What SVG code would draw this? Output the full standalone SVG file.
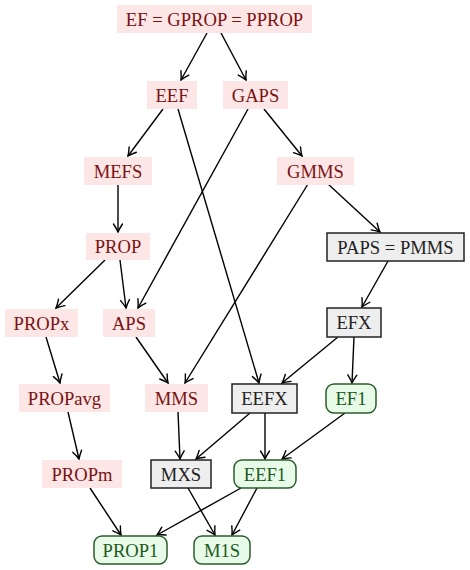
<svg xmlns="http://www.w3.org/2000/svg" width="470" height="570" viewBox="0 0 470 570">
<defs>
<marker id="arr" viewBox="-10 -6 12 12" refX="0" refY="0" markerWidth="12" markerHeight="12" markerUnits="userSpaceOnUse" orient="auto">
<path d="M-8,-4.5 Q-3,-1.2 0,0 Q-3,1.2 -8,4.5" fill="none" stroke="#000" stroke-width="1.4" stroke-linecap="round"/>
</marker>
</defs>
<style>
.p rect{fill:#fde6e6;stroke:none}
.p text{fill:#7a1313}
.g rect{fill:#eeeeee;stroke:#222;stroke-width:1.5}
.g text{fill:#222}
.n rect{fill:#e8fbe8;stroke:#2a5e2a;stroke-width:1.5}
.n text{fill:#1d5a1d}
#edges line{stroke:#000;stroke-width:1.4;fill:none;marker-end:url(#arr)}
</style>
<g id="edges">
<line x1="207" y1="33" x2="181" y2="80"/>
<line x1="221" y1="33" x2="246" y2="80"/>
<line x1="163" y1="109" x2="128" y2="156"/>
<line x1="178" y1="109" x2="259" y2="383"/>
<line x1="264" y1="109" x2="302" y2="156"/>
<line x1="248" y1="109" x2="138" y2="308"/>
<line x1="118" y1="185" x2="118" y2="232"/>
<line x1="105" y1="260" x2="56" y2="308"/>
<line x1="120" y1="260" x2="126" y2="308"/>
<line x1="328" y1="184" x2="380" y2="232"/>
<line x1="308" y1="184" x2="185" y2="383"/>
<line x1="388" y1="261" x2="362" y2="307"/>
<line x1="338" y1="337" x2="282" y2="383"/>
<line x1="354" y1="337" x2="352" y2="383"/>
<line x1="46" y1="337" x2="60" y2="383"/>
<line x1="136" y1="337" x2="168" y2="383"/>
<line x1="68" y1="412" x2="79" y2="459"/>
<line x1="178" y1="412" x2="180" y2="459"/>
<line x1="250" y1="413" x2="196" y2="459"/>
<line x1="265" y1="413" x2="265" y2="459"/>
<line x1="345" y1="413" x2="282" y2="459"/>
<line x1="90" y1="488" x2="121" y2="535"/>
<line x1="241" y1="488" x2="157" y2="535"/>
<line x1="188" y1="488" x2="215" y2="535"/>
<line x1="257" y1="488" x2="232" y2="535"/>
</g>
<g font-family="'Liberation Serif', 'Times New Roman', serif" font-size="18.6" text-anchor="middle">
<g id="EF_GPROP_PPROP" class="p"><rect x="117" y="5" width="195" height="28"/><text x="214.5" y="25.5">EF = GPROP = PPROP</text></g>
<g id="EEF" class="p"><rect x="147" y="81" width="50" height="28"/><text x="172" y="101.5">EEF</text></g>
<g id="GAPS" class="p"><rect x="223" y="81" width="65" height="28"/><text x="255.5" y="101.5">GAPS</text></g>
<g id="MEFS" class="p"><rect x="84" y="157" width="68" height="28"/><text x="118" y="177.5">MEFS</text></g>
<g id="GMMS" class="p"><rect x="277" y="157" width="77" height="28"/><text x="315.5" y="177.5">GMMS</text></g>
<g id="PROP" class="p"><rect x="86" y="233" width="64" height="27"/><text x="118" y="253">PROP</text></g>
<g id="PAPS_PMMS" class="g"><rect x="327" y="233" width="137" height="28"/><text x="395.5" y="253.5">PAPS = PMMS</text></g>
<g id="PROPx" class="p"><rect x="5" y="309" width="73" height="28"/><text x="41.5" y="329.5">PROPx</text></g>
<g id="APS" class="p"><rect x="103" y="309" width="52" height="28"/><text x="129" y="329.5">APS</text></g>
<g id="EFX" class="g"><rect x="327" y="308" width="54" height="29"/><text x="354" y="329">EFX</text></g>
<g id="PROPavg" class="p"><rect x="19" y="384" width="91" height="28"/><text x="64.5" y="404.5">PROPavg</text></g>
<g id="MMS" class="p"><rect x="145" y="384" width="63" height="28"/><text x="176.5" y="404.5">MMS</text></g>
<g id="EEFX" class="g"><rect x="232" y="384" width="65" height="29"/><text x="264.5" y="405">EEFX</text></g>
<g id="EF1" class="n"><rect x="326" y="384" width="50" height="29" rx="8"/><text x="351" y="405">EF1</text></g>
<g id="PROPm" class="p"><rect x="42" y="460" width="80" height="28"/><text x="82" y="480.5">PROPm</text></g>
<g id="MXS" class="g"><rect x="151" y="460" width="60" height="28"/><text x="181" y="480.5">MXS</text></g>
<g id="EEF1" class="n"><rect x="234" y="460" width="62" height="28" rx="8"/><text x="265" y="480.5">EEF1</text></g>
<g id="PROP1" class="n"><rect x="94" y="536" width="73" height="28" rx="8"/><text x="130.5" y="556.5">PROP1</text></g>
<g id="M1S" class="n"><rect x="194" y="536" width="56" height="28" rx="8"/><text x="222" y="556.5">M1S</text></g>
</g>
</svg>
